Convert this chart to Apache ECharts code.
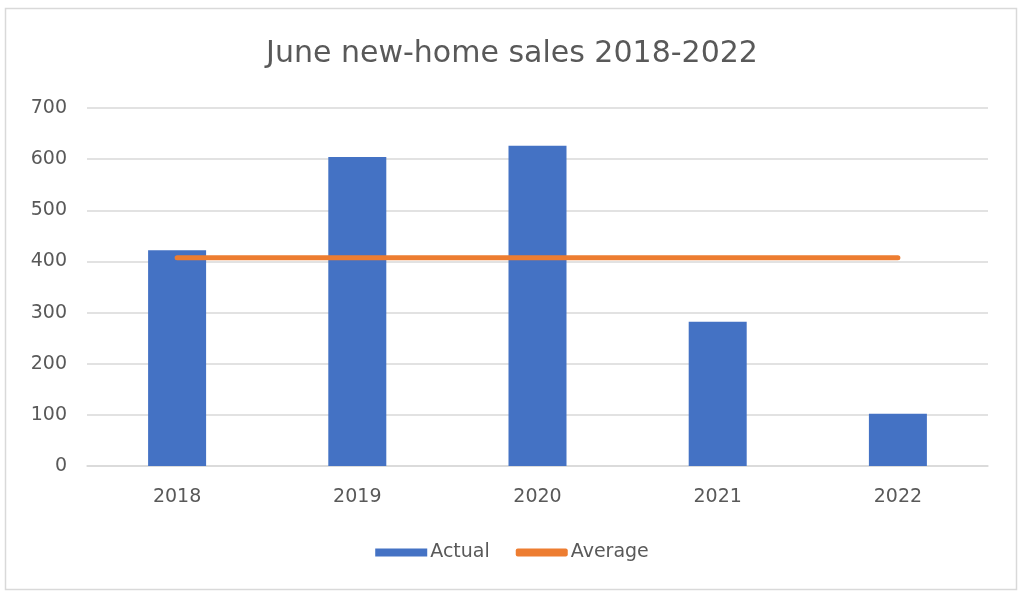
<!DOCTYPE html>
<html>
<head>
<meta charset="utf-8">
<script src="https://cdn.jsdelivr.net/npm/echarts@6/dist/echarts.min.js"></script>
<style>
html,body{margin:0;padding:0;background:#fff;}
#chart{width:1024px;height:599px;}
</style>
</head>
<body>
<div id="chart"></div>
<script>
const titleText = 'June new-home sales 2018-2022';
const categories = ['2018', '2019', '2020', '2021', '2022'];
const actualValues = [422, 604, 626, 282, 102];
const averageValues = [407, 407, 407, 407, 407];
const yTicks = [0, 100, 200, 300, 400, 500, 600, 700];

const FONT = 'DejaVu Sans';
const chart = echarts.init(document.getElementById('chart'), null, {renderer: 'canvas'});
chart.setOption({
  backgroundColor: '#ffffff',
  animation: false,
  graphic: [{
    type: 'rect',
    shape: {x: 5.5, y: 8.5, width: 1011, height: 581},
    style: {fill: 'none', stroke: '#d9d9d9', lineWidth: 1.5},
    silent: true
  }],
  title: {
    text: titleText,
    left: 'center',
    top: 34,
    textStyle: {fontFamily: FONT, fontSize: 30, fontWeight: 'normal', color: '#595959'}
  },
  legend: {
    bottom: 32,
    left: 'center',
    itemWidth: 52,
    itemHeight: 8,
    itemGap: 26,
    textStyle: {fontFamily: FONT, fontSize: 19, color: '#595959', padding: [0, 0, 0, -2]},
    data: [
      {name: 'Actual', icon: 'rect'},
      {name: 'Average', icon: 'roundRect'}
    ]
  },
  grid: {left: 87, right: 36, top: 108, bottom: 133, containLabel: false},
  xAxis: {
    type: 'category',
    data: categories,
    axisLine: {show: true, lineStyle: {color: '#d9d9d9', width: 1.5}},
    axisTick: {show: false},
    axisLabel: {fontFamily: FONT, fontSize: 19, color: '#595959', margin: 22}
  },
  yAxis: {
    type: 'value',
    min: yTicks[0],
    max: yTicks[yTicks.length - 1],
    interval: 100,
    axisLine: {show: false},
    axisTick: {show: false},
    splitLine: {lineStyle: {color: '#d9d9d9', width: 1.5}},
    axisLabel: {fontFamily: FONT, fontSize: 19, color: '#595959', margin: 20}
  },
  series: [
    {
      name: 'Actual',
      type: 'bar',
      data: actualValues,
      barWidth: 58,
      itemStyle: {color: '#4472c4'}
    },
    {
      name: 'Average',
      type: 'line',
      data: averageValues,
      symbol: 'none',
      lineStyle: {color: '#ed7d31', width: 5, cap: 'round'},
      itemStyle: {color: '#ed7d31'}
    }
  ]
});
</script>
</body>
</html>
